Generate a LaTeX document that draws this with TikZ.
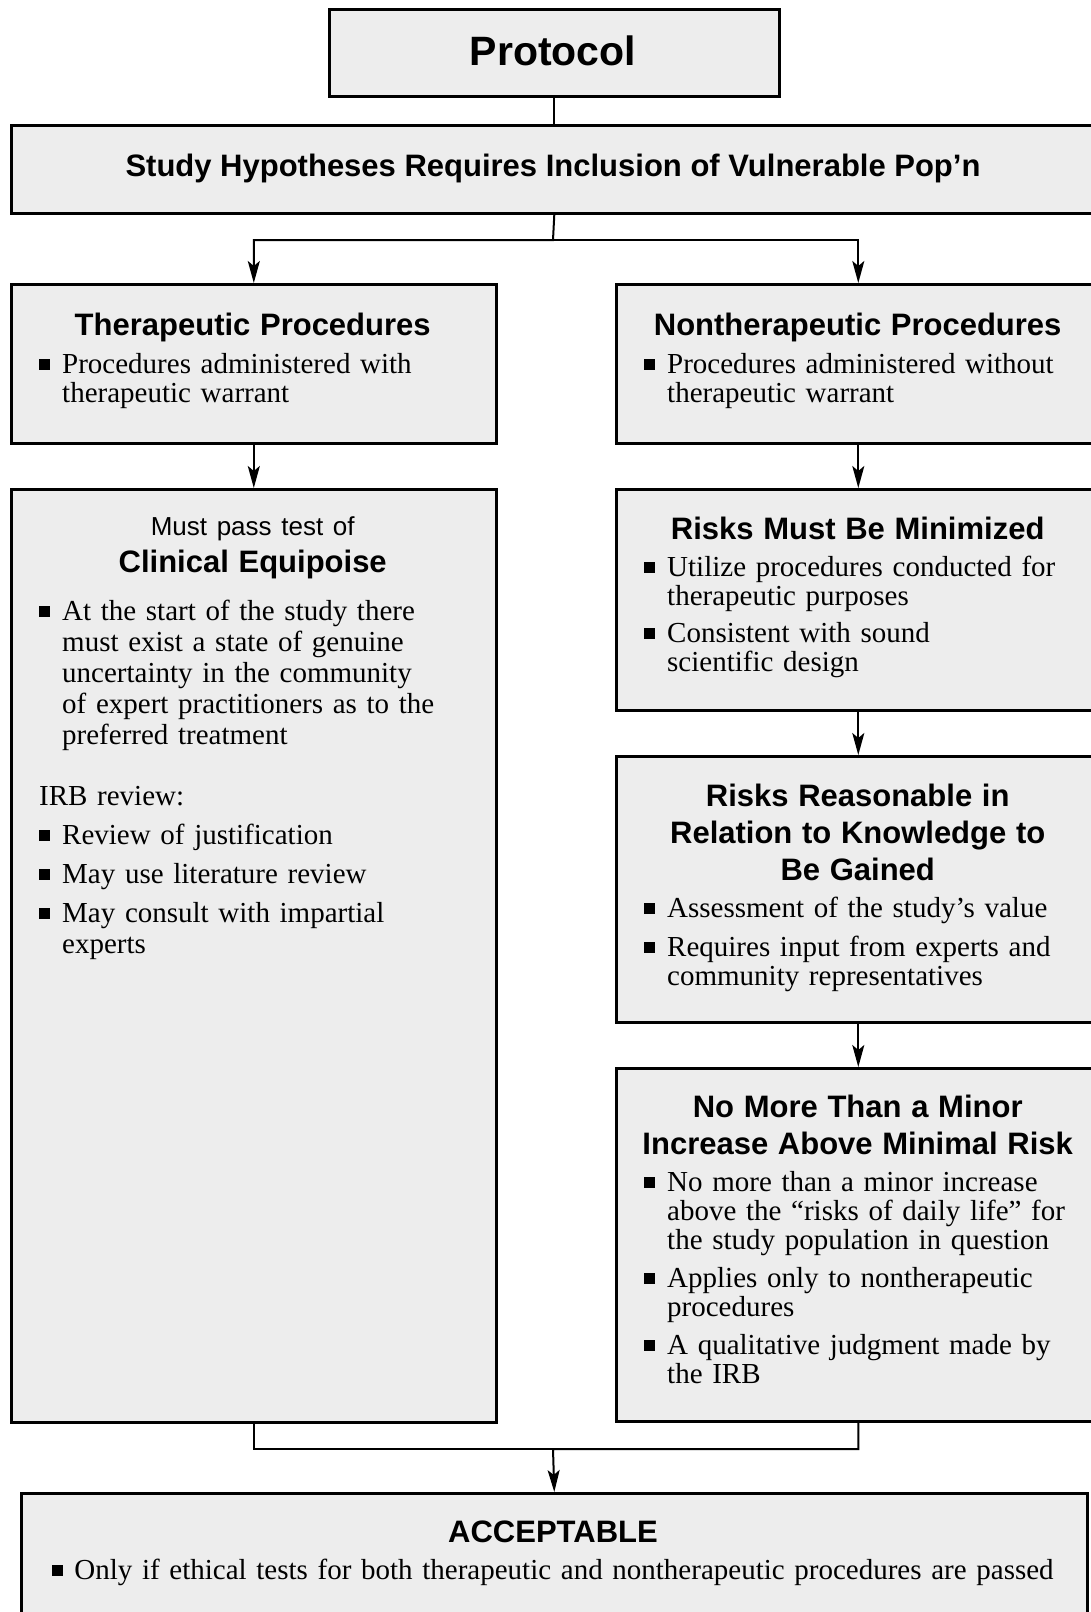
\documentclass[tikz,border=0pt]{standalone}
\usepackage{fontspec}
\setmainfont{Liberation Serif}
\newfontfamily\headfont{Liberation Sans}
\usetikzlibrary{arrows.meta}

\definecolor{boxgray}{RGB}{237,237,237}
\newcommand\hd[2][31]{{\centering\leftskip=-12pt plus 1fil\rightskip=-12pt plus 1fil
  \headfont\bfseries\fontsize{#1}{37}\selectfont #2\par}}
\newcommand\sqbul{\rule[3.5pt]{10.5pt}{10.5pt}}
\newcommand\bul[2][9pt]{\par\vspace{#1}{\let\\\newline\hangindent=23pt\hangafter=1\noindent
  \makebox[23pt][l]{\sqbul}#2\par}}

\tikzset{
  box/.style={draw, line width=2.6pt, fill=boxgray, inner sep=0pt, anchor=north west},
  txt/.style={anchor=base west, inner sep=0pt, text width=427pt, align=left, font=\fontsize{29}{29}\selectfont},
  link/.style={line width=2pt},
  arr/.style={line width=2pt, -{Stealth[length=22pt,width=12pt,inset=5pt]}}
}

\begin{document}
\begin{tikzpicture}[x=1pt,y=-1pt]
\clip (0,0) rectangle (1091,1612);
\node[box, minimum width=450pt, minimum height=87pt] (proto) at (328,8) {};
\node[box, minimum width=1086pt, minimum height=88pt] (study) at (10,124) {};
\node[box, minimum width=485pt, minimum height=159pt] (ther) at (10,283) {};
\node[box, minimum width=484pt, minimum height=159pt] (non) at (615,283) {};
\node[box, minimum width=485pt, minimum height=933pt] (clin) at (10,488) {};
\node[box, minimum width=484pt, minimum height=221pt] (mini) at (615,488) {};
\node[box, minimum width=484pt, minimum height=266pt] (reas) at (615,755) {};
\node[box, minimum width=484pt, minimum height=353pt] (minor) at (615,1067) {};
\node[box, minimum width=1066pt, minimum height=140pt] (acc) at (20,1492) {};

\node[anchor=base, inner sep=0pt, font=\headfont\bfseries\fontsize{41}{41}\selectfont] (protoT) at (553,65) {Protocol};
\node[anchor=base, inner sep=0pt, font=\headfont\bfseries\fontsize{31}{37}\selectfont] (studyT) at (553,176) {Study Hypotheses Requires Inclusion of Vulnerable Pop’n};

\node[txt] (therT) at (39,335) {\hd{Therapeutic Procedures}
  \bul{Procedures administered with\\therapeutic warrant}};
\node[txt] (nonT) at (644,335) {\hd{Nontherapeutic Procedures}
  \bul{Procedures administered without\\therapeutic warrant}};
\node[txt, font=\fontsize{29}{31}\selectfont] (clinT) at (39,535) {%
  {\centering\headfont\fontsize{26}{30}\selectfont Must pass test of\par}
  \hd{Clinical Equipoise}
  \bul[17pt]{At the start of the study there\\must exist a state of genuine\\uncertainty in the community\\of expert practitioners as to the\\preferred treatment}
  \vspace{30pt}\noindent IRB review:\par
  \bul[8pt]{Review of justification}
  \bul[8pt]{May use literature review}
  \bul[8pt]{May consult with impartial\\experts}};
\node[txt] (miniT) at (644,539) {\hd{Risks Must Be Minimized}
  \bul[8pt]{Utilize procedures conducted for\\therapeutic purposes}
  \bul[8pt]{Consistent with sound\\scientific design}};
\node[txt] (reasT) at (644,806) {\hd{Risks Reasonable in\\Relation to Knowledge to\\Be Gained}
  \bul[8pt]{Assessment of the study’s value}
  \bul[10pt]{Requires input from experts and\\community representatives}};
\node[txt] (minorT) at (644,1117) {\hd{No More Than a Minor\\Increase Above Minimal Risk}
  \bul[8pt]{No more than a minor increase\\above the “risks of daily life” for\\the study population in question}
  \bul{Applies only to nontherapeutic\\procedures}
  \bul{A qualitative judgment made by\\the IRB}};
\node[txt, anchor=base, text width=1040pt] (accT) at (553,1542) {\hd{ACCEPTABLE}
  \vspace{8pt}{\centering\makebox[22pt][l]{\sqbul}Only if ethical tests for both therapeutic and nontherapeutic procedures are passed\par}};

\draw[link] (proto.south) -- (study.north);
\coordinate (split) at (553,240);
\draw[arr] (study.south) -- (split) -| (ther.north);
\draw[arr] (split) -| (non.north);
\draw[arr] (ther.south) -- (clin.north);
\foreach \a/\b in {non/mini,mini/reas,reas/minor}
  \draw[arr] (\a.south) -- (\b.north);
\coordinate (merge) at (553,1449);
\draw[link] (clin.south) |- (merge);
\draw[arr] (minor.south) |- (merge) -- (acc.north);
\end{tikzpicture}
\end{document}
